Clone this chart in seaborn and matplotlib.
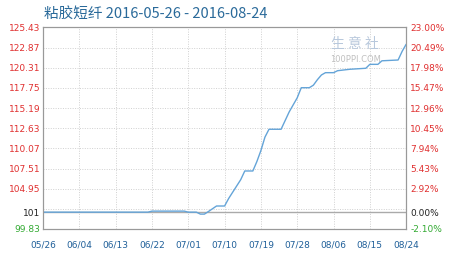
import pandas as pd
import numpy as np
import seaborn as sns
import matplotlib.pyplot as plt
import matplotlib.dates as mdates

# price points (day offset from 2016-05-26, index value)
days = [0, 26, 27, 35, 36, 38, 39, 40, 41, 43, 45, 46, 47, 48, 49, 50, 52, 53, 54,
        55, 56, 59, 60, 61, 62, 63, 64, 66, 67, 68, 69, 70, 72, 73, 76, 80, 81, 83,
        84, 88, 89, 90]
values = [101.97, 101.97, 102.10, 102.10, 101.97, 101.97, 101.72, 101.72, 102.05,
          102.75, 102.75, 103.70, 104.50, 105.30, 106.10, 107.20, 107.20, 108.40,
          109.80, 111.50, 112.50, 112.50, 113.60, 114.70, 115.60, 116.50, 117.78,
          117.78, 118.10, 118.80, 119.40, 119.69, 119.69, 119.94, 120.12, 120.25,
          120.75, 120.75, 121.20, 121.30, 122.40, 123.30]

base = 101.97
left_ticks = [99.83, base, 104.95, 107.51, 110.07, 112.63, 115.19, 117.75, 120.31, 122.87, 125.43]
left_labels = ['99.83', '101', '104.95', '107.51', '110.07', '112.63', '115.19',
               '117.75', '120.31', '122.87', '125.43']
right_labels = ['-2.10%', '0.00%', '2.92%', '5.43%', '7.94%', '10.45%', '12.96%',
                '15.47%', '17.98%', '20.49%', '23.00%']
grid_vals = [99.83, 102.39, 104.95, 107.51, 110.07, 112.63, 115.19, 117.75, 120.31, 122.87, 125.43]
xtick_days = [0, 9, 18, 27, 36, 45, 54, 63, 72, 81, 90]

start = pd.Timestamp('2016-05-26')
df = pd.DataFrame({'date': [start + pd.Timedelta(days=d) for d in days], 'price': values})

sns.set_style('white')
plt.rcParams['font.family'] = ['DejaVu Sans']

fig = plt.figure(figsize=(4.5, 2.57), dpi=100)
ax = fig.add_axes([0.0956, 0.109, 0.807, 0.784])

# grid
for g in grid_vals:
    ax.axhline(g, color='#d0d0d0', lw=0.7, ls=(0, (1, 1.5)), zorder=0)
for d in xtick_days:
    ax.axvline(start + pd.Timedelta(days=d), color='#d0d0d0', lw=0.7, ls=(0, (1, 1.5)), zorder=0)
ax.axhline(base, color='#aaaaaa', lw=1.0, zorder=1)

# watermark text
ax.text(0.86, 0.92, '生 意 社', transform=ax.transAxes, ha='center', va='center',
        fontsize=10, color='#b8c8dc', family=['Noto Sans CJK SC'], zorder=0)
ax.text(0.86, 0.84, '100PPI.COM', transform=ax.transAxes, ha='center', va='center',
        fontsize=6, color='#c0c0c0', zorder=0)

sns.lineplot(data=df, x='date', y='price', ax=ax, color='#64a4d8', lw=1.0, zorder=3)

ax.set_xlim(start, start + pd.Timedelta(days=90))
ax.set_ylim(99.83, 125.43)
ax.set_xlabel('')
ax.set_ylabel('')

ax.set_xticks([start + pd.Timedelta(days=d) for d in xtick_days])
ax.xaxis.set_major_formatter(mdates.DateFormatter('%m/%d'))
ax.tick_params(axis='x', labelsize=6.5, colors='#1f5f99', length=0, pad=8)

ax.set_yticks(left_ticks)
ax.set_yticklabels(left_labels)
ax.tick_params(axis='y', labelsize=6.5, length=0, pad=2)
for lbl in ax.get_yticklabels():
    lbl.set_color('#e03030')
ax.get_yticklabels()[0].set_color('#33aa33')
ax.get_yticklabels()[1].set_color('#222222')

ax2 = ax.twinx()
ax2.set_ylim(99.83, 125.43)
ax2.set_yticks(left_ticks)
ax2.set_yticklabels(right_labels)
ax2.tick_params(axis='y', labelsize=6.5, length=0, pad=3)
for lbl in ax2.get_yticklabels():
    lbl.set_color('#e03030')
ax2.get_yticklabels()[0].set_color('#33aa33')
ax2.get_yticklabels()[1].set_color('#222222')

for a in (ax, ax2):
    for s in a.spines.values():
        s.set_color('#999999')
        s.set_linewidth(0.8)

fig.text(0.098, 0.945, '粘胶短纤 2016-05-26 - 2016-08-24', fontsize=10.5, color='#2a6a9a',
         family=['Noto Sans CJK SC', 'DejaVu Sans'], va='center')

fig.savefig('out.png', dpi=100)
